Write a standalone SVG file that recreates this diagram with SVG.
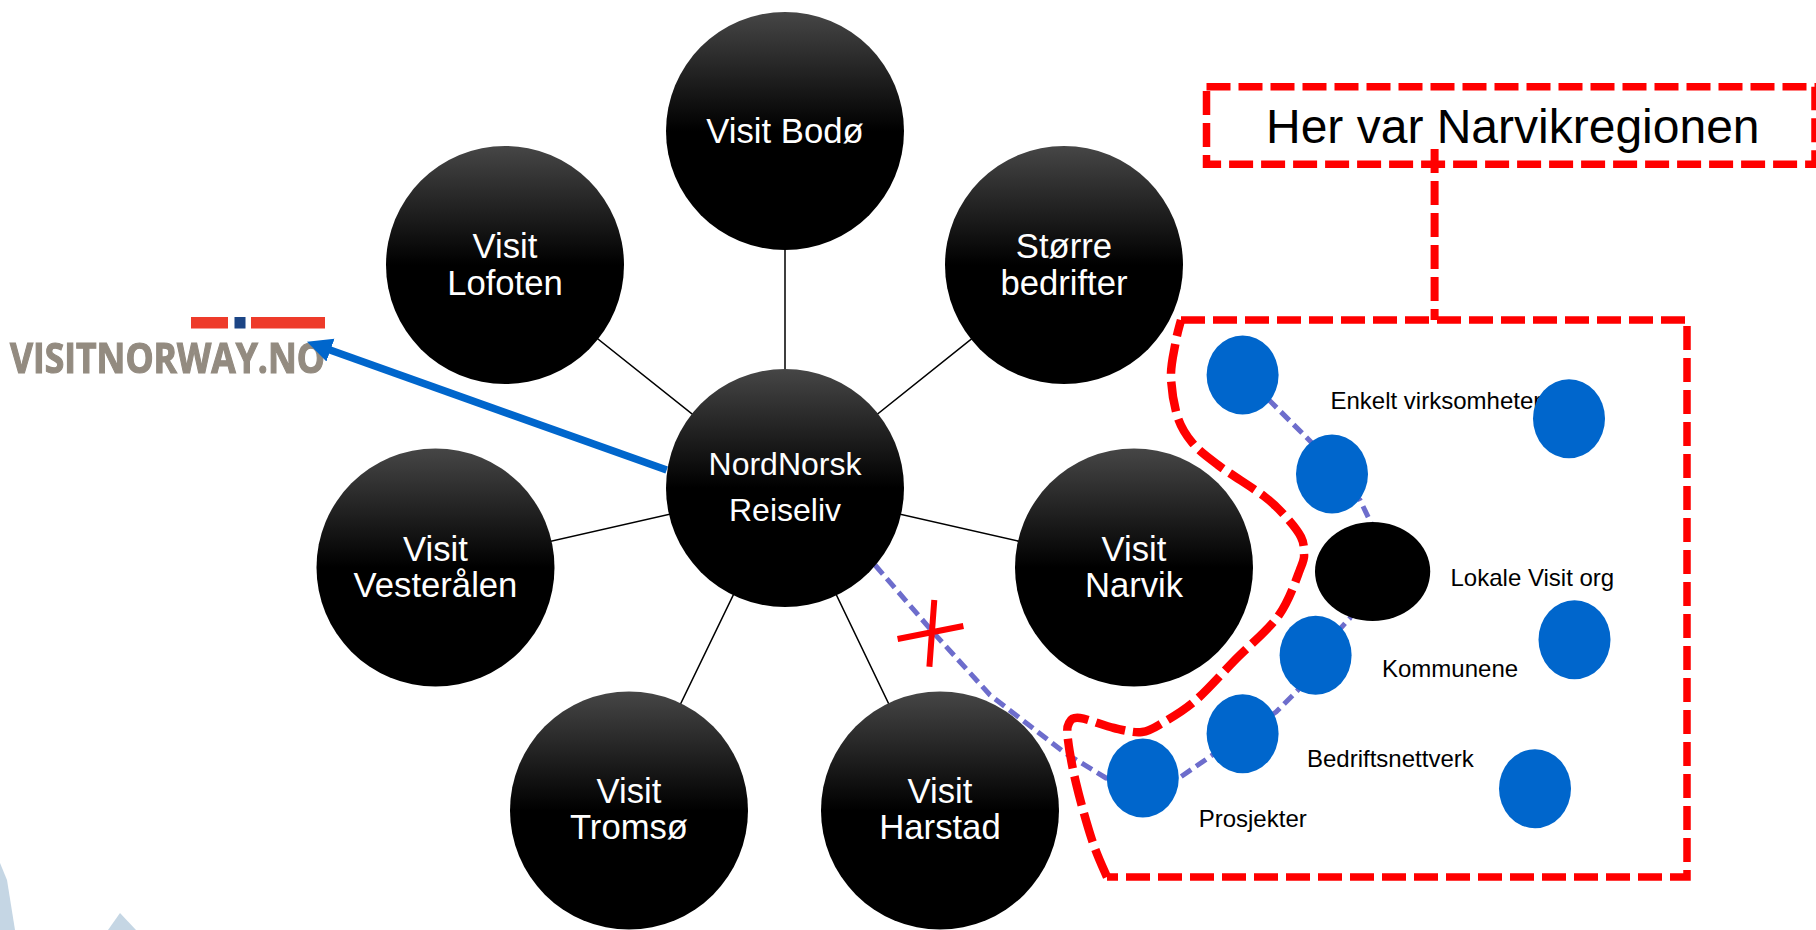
<svg xmlns="http://www.w3.org/2000/svg" width="1816" height="930" viewBox="0 0 1816 930">
<style>
text{font-family:"Liberation Sans",Arial,sans-serif}
.n{fill:url(#g)}
.w{fill:#fff;font-size:34.67px;text-anchor:middle}
.spoke{stroke:#000;stroke-width:1.5;fill:none}
.red{fill:none;stroke:#f00;stroke-width:7.5;stroke-dasharray:24 8}
.pur{fill:none;stroke:#6d6dcc;stroke-width:5;stroke-dasharray:12 6;stroke-linejoin:round}
.b{fill:#0066cc}
.l{fill:#000;font-size:24px}
</style>
<defs>
<linearGradient id="g" x1="0" y1="0" x2="0" y2="1"><stop offset="0" stop-color="#464646"/><stop offset="0.5" stop-color="#000"/><stop offset="1" stop-color="#000"/></linearGradient>
<marker id="ah" markerUnits="userSpaceOnUse" markerWidth="26" markerHeight="26" refX="2" refY="13" orient="auto"><path d="M0 1L25 13L0 25Z" fill="#0066cc"/></marker>
<filter id="soft"><feGaussianBlur stdDeviation="0.5"/></filter>
</defs>
<rect width="1816" height="930" fill="#fff"/>
<g id="watermark" fill="#c5d6e4"><path d="M0 863L7 880L15 930L0 930Z"/><path d="M120 913L136 930L108 930Z"/></g>
<g id="logo" filter="url(#soft)">
<rect x="191" y="317" width="37" height="11.500" fill="#ee3a2a"/><rect x="234.500" y="317" width="11" height="11.500" fill="#1c4585"/><rect x="251" y="317" width="74" height="11.500" fill="#ee3a2a"/>
<text x="10" y="373" font-size="41" font-weight="700" fill="#938b80" stroke="#938b80" stroke-width="1.2" textLength="315" lengthAdjust="spacingAndGlyphs" style="font-family:'Open Sans',sans-serif">VISITNORWAY.NO</text>
</g>
<g id="connectors">
<path class="spoke" d="M785 488L785 131M785 488L505 265M785 488L1064 265M785 488L435.500 567.500M785 488L1134 567.500M785 488L629 810.500M785 488L940 810.500"/>
<path class="pur" d="M875 565L932 631L990 695L1065 753L1106 778L1143 790L1179 778L1243 734L1276 712L1298 690L1316 655L1350 618L1372 571L1372 525L1360 500L1332 474L1311 442L1271 402L1243 375"/>
<path d="M666.700 470L328.600 349.500" fill="none" stroke="#0066cc" stroke-width="7.500" marker-end="url(#ah)"/>
<path class="red" style="stroke-width:8" d="M1434.600 149L1434.600 320"/>
<path d="M934.300 600L929.400 666.700M963.400 626L897.600 639" stroke="#f00" stroke-width="6" fill="none"/>
</g>
<g id="n-center"><circle class="n" cx="785" cy="488" r="119"/><text class="w" x="785" y="475" style="font-size:32px">NordNorsk</text><text class="w" x="785" y="521" style="font-size:32px">Reiseliv</text></g>
<g id="n-bodo"><circle class="n" cx="785" cy="131" r="119"/><text class="w" x="785" y="143">Visit Bodø</text></g>
<g id="n-lofoten"><circle class="n" cx="505" cy="265" r="119"/><text class="w" x="505" y="258">Visit</text><text class="w" x="505" y="295">Lofoten</text></g>
<g id="n-storre"><circle class="n" cx="1064" cy="265" r="119"/><text class="w" x="1064" y="258">Større</text><text class="w" x="1064" y="295">bedrifter</text></g>
<g id="n-vesteralen"><circle class="n" cx="435.500" cy="567.500" r="119"/><text class="w" x="435.500" y="561">Visit</text><text class="w" x="435.500" y="597">Vesterålen</text></g>
<g id="n-narvik"><circle class="n" cx="1134" cy="567.500" r="119"/><text class="w" x="1134" y="561">Visit</text><text class="w" x="1134" y="597">Narvik</text></g>
<g id="n-tromso"><circle class="n" cx="629" cy="810.500" r="119"/><text class="w" x="629" y="803">Visit</text><text class="w" x="629" y="839">Tromsø</text></g>
<g id="n-harstad"><circle class="n" cx="940" cy="810.500" r="119"/><text class="w" x="940" y="803">Visit</text><text class="w" x="940" y="839">Harstad</text></g>
<g id="n-title"><rect class="red" x="1206.500" y="86.700" width="608.500" height="77.600"/><text x="1266" y="143" font-size="48" fill="#000">Her var Narvikregionen</text></g>
<g id="n-region">
<path class="red" d="M1181 320L1687 320L1687 877L1107 877"/>
<path class="red" style="stroke-width:8.500;stroke-dasharray:30 8" d="M1107 877C1104.500 871 1097.200 855.700 1092 840C1086.800 824.300 1080 799.700 1076 783C1072 766.300 1069.200 750 1068 740C1066.800 730 1067 726.700 1069 723C1071 719.300 1072.500 717.200 1080 718C1087.500 718.800 1103.700 725.700 1114 728C1124.300 730.300 1133.700 733 1142 732C1150.300 731 1155 727.300 1164 722C1173 716.700 1184.200 710.300 1196 700C1207.800 689.700 1221.200 674.200 1235 660C1248.800 645.800 1268 630.500 1279 615C1290 599.500 1296.800 577.300 1301 567C1305.200 556.700 1304 558 1304 553C1304 548 1304 543 1301 537C1298 531 1292 523.700 1286 517C1280 510.300 1276.300 505.700 1265 497C1253.700 488.300 1230 474 1218 465C1206 456 1199.200 451 1192.500 443C1185.800 435 1181.200 428 1177.600 417C1174 406 1171.400 389.300 1171 377C1170.600 364.700 1173.900 352.500 1175.500 343C1177.100 333.500 1179.700 325 1181 320"/>
</g>
<g id="n-labels"><text class="l" x="1330.500" y="409">Enkelt virksomheter</text><text class="l" x="1450.500" y="586">Lokale Visit org</text><text class="l" x="1382" y="677">Kommunene</text><text class="l" x="1307" y="767">Bedriftsnettverk</text><text class="l" x="1198.700" y="827">Prosjekter</text></g>
<g id="n-e1"><ellipse class="b" cx="1242.600" cy="375" rx="36" ry="39.500"/></g>
<g id="n-e2"><ellipse class="b" cx="1332" cy="474" rx="36" ry="39.500"/></g>
<g id="n-e3"><ellipse class="b" cx="1569" cy="418.700" rx="36" ry="39.500"/></g>
<g id="n-black"><ellipse cx="1372.600" cy="571.500" rx="57.600" ry="49.500" fill="#000"/></g>
<g id="n-e4"><ellipse class="b" cx="1315.600" cy="655.300" rx="36" ry="39.500"/></g>
<g id="n-e5"><ellipse class="b" cx="1242.600" cy="733.700" rx="36" ry="39.500"/></g>
<g id="n-e6"><ellipse class="b" cx="1142.800" cy="778" rx="36" ry="39.500"/></g>
<g id="n-e7"><ellipse class="b" cx="1574.500" cy="639.700" rx="36" ry="39.500"/></g>
<g id="n-e8"><ellipse class="b" cx="1535" cy="788.700" rx="36" ry="39.500"/></g>
</svg>
